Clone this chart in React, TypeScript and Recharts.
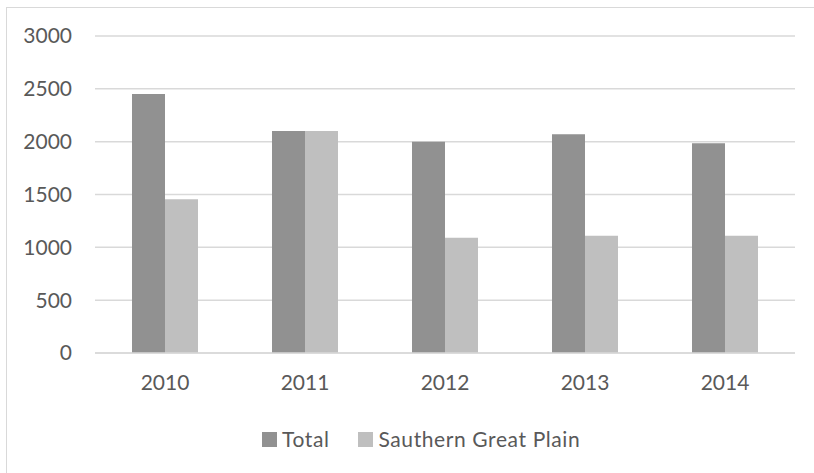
import { BarChart, Bar, XAxis, YAxis, CartesianGrid, Legend } from "recharts";

const years = ["2010", "2011", "2012", "2013", "2014"];
const totalValues = [2450, 2100, 2000, 2070, 1985];
const plainValues = [1455, 2100, 1090, 1110, 1110];
const yTicks = [0, 500, 1000, 1500, 2000, 2500, 3000];

const seriesNames = { total: "Total", plain: "Sauthern Great Plain" };
const colors = { total: "#919191", plain: "#bfbfbf" };

const data = years.map((year, i) => ({
  year,
  total: totalValues[i],
  plain: plainValues[i],
}));

const font = "Lato, 'Open Sans', sans-serif";
const textColor = "#595959";

function LegendContent() {
  const items = [
    { key: "total", label: seriesNames.total, color: colors.total },
    { key: "plain", label: seriesNames.plain, color: colors.plain },
  ];
  return (
    <div style={{ display: "flex", paddingLeft: 262, fontFamily: font, fontSize: 21, letterSpacing: 0.6, color: textColor, lineHeight: "24px" }}>
      {items.map((it, i) => (
        <div key={it.key} style={{ display: "flex", alignItems: "center", marginRight: i === 0 ? 29 : 0 }}>
          <span style={{ width: 15, height: 15, background: it.color, marginRight: 5, display: "inline-block" }} />
          <span>{it.label}</span>
        </div>
      ))}
    </div>
  );
}

export default function App() {
  return (
    <div style={{ position: "absolute", left: 0, top: 0, width: 814, height: 473, background: "#fff", overflow: "hidden" }}>
      <div
        style={{
          position: "absolute",
          left: 6,
          top: 7,
          width: 840,
          height: 500,
          borderLeft: "1px solid #d9d9d9",
          borderTop: "1px solid #d9d9d9",
        }}
      />
      <BarChart
        width={814}
        height={473}
        data={data}
        margin={{ top: 36, right: 19, left: 0, bottom: 80 }}
        barGap={0}
        style={{ position: "absolute", left: 0, top: 0 }}
      >
        <CartesianGrid vertical={false} stroke="#d9d9d9" strokeWidth={1.5} />
        <XAxis
          dataKey="year"
          height={40}
          tickSize={0}
          tickMargin={22}
          stroke="#d9d9d9"
          strokeWidth={1.5}
          tick={{ fill: textColor, fontFamily: font, fontSize: 21 }}
        />
        <YAxis
          width={95}
          domain={[0, 3000]}
          ticks={yTicks}
          axisLine={false}
          tickLine={false}
          tickSize={0}
          tickMargin={23}
          tick={{ fill: textColor, fontFamily: font, fontSize: 21 }}
        />
        <Legend
          verticalAlign="middle"
          align="center"
          wrapperStyle={{ top: 427, left: 0, width: 814 }}
          content={<LegendContent />}
        />
        <Bar dataKey="total" name={seriesNames.total} fill={colors.total} barSize={33} isAnimationActive={false} />
        <Bar dataKey="plain" name={seriesNames.plain} fill={colors.plain} barSize={33} isAnimationActive={false} />
      </BarChart>
    </div>
  );
}
